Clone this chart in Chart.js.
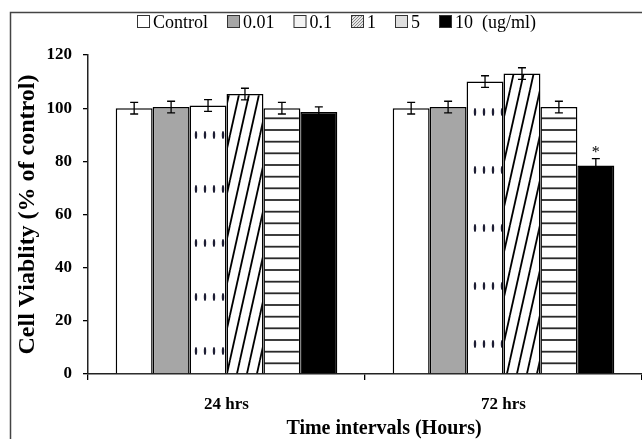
<!DOCTYPE html>
<html>
<head>
<meta charset="utf-8">
<script src="https://cdn.jsdelivr.net/npm/chart.js@4.4.1/dist/chart.umd.min.js"></script>
<style>
  html, body { margin: 0; padding: 0; background: #fff; }
  #wrap { width: 642px; height: 439px; }
</style>
</head>
<body>
<div id="wrap"><canvas id="chart" width="642" height="439"></canvas></div>
<script>
// values
const categories = ['24 hrs', '72 hrs'];
const seriesNames = ['Control', '0.01', '0.1', '1', '5', '10  (ug/ml)'];
const control = [100, 100];
const conc001 = [100.4, 100.4];
const conc01 = [101, 110];
const conc1 = [105.3, 113];
const conc5 = [100, 100.4];
const conc10 = [98.6, 78.4];
const errControl = [2.2, 2.2];
const err001 = [2.2, 2.2];
const err01 = [2.2, 2.2];
const err1 = [2.2, 2.2];
const err5 = [2.2, 2.2];
const err10 = [1.9, 2.6];
const signif10 = ['', '*'];
const yTicks = [0, 20, 40, 60, 80, 100, 120];
const xTitle = 'Time intervals (Hours)';

const values = [control, conc001, conc01, conc1, conc5, conc10];
const errors = [errControl, err001, err01, err1, err5, err10];
const signif = [[], [], [], [], [], signif10];

const FONT = '"Liberation Serif", "Times New Roman", serif';
const canvas = document.getElementById('chart');
const ctx = canvas.getContext('2d');

// pattern helpers
function makeTile(w, h, draw) {
    const c = document.createElement('canvas');
    c.width = w; c.height = h;
    const g = c.getContext('2d');
    draw(g, w, h);
    return ctx.createPattern(c, 'repeat');
}

function dotPattern(tileH, rowY) {
    return makeTile(9, tileH, (g, w, h) => {
        g.fillStyle = '#fff';
        g.fillRect(0, 0, w, h);
        g.fillStyle = '#1d1d33';
        const cy = rowY % h;
        g.beginPath();
        g.ellipse(7, cy, 1.2, 4, 0, 0, Math.PI * 2);
        g.fill();
    });
}

const diagPattern = makeTile(10, 45, (g, w, h) => {
    g.fillStyle = '#fff';
    g.fillRect(0, 0, w, h);
    g.strokeStyle = '#000';
    g.lineWidth = 1.8;
    [-w, 0, w].forEach(x0 => {
        g.beginPath();
        g.moveTo(x0, h);
        g.lineTo(x0 + w, 0);
        g.stroke();
    });
});

const horizPattern = makeTile(4, 35, (g, w, h) => {
    g.fillStyle = '#fff';
    g.fillRect(0, 0, w, h);
    g.fillStyle = '#2a2a2a';
    [1.7, 13.3, 25].forEach(y => g.fillRect(0, y - 0.9, w, 1.8));
});

const hatchSmall = makeTile(3, 3, (g, w, h) => {
    g.fillStyle = '#e6e6e6';
    g.fillRect(0, 0, w, h);
    g.fillStyle = '#8a8a8a';
    g.fillRect(2, 0, 1, 1);
    g.fillRect(1, 1, 1, 1);
    g.fillRect(0, 2, 1, 1);
});

const barFills = [
    '#ffffff',
    '#a6a6a6',
    [dotPattern(54, 135), dotPattern(58, 112)],
    diagPattern,
    horizPattern,
    '#000000'
];
const legendFills = ['#ffffff', '#a6a6a6', '#f3f3f3', hatchSmall, '#dedede', '#000000'];

const extras = {
    id: 'extras',
    afterDatasetsDraw(chart) {
        const c = chart.ctx;
        const y = chart.scales.y;
        c.save();
        c.strokeStyle = '#000';
        c.lineWidth = 1.3;
        chart.data.datasets.forEach((ds, i) => {
            const meta = chart.getDatasetMeta(i);
            meta.data.forEach((bar, j) => {
                const v = ds.data[j], e = errors[i][j];
                const yTop = y.getPixelForValue(v + e);
                const yBot = y.getPixelForValue(v - e);
                c.beginPath();
                c.moveTo(bar.x, yTop); c.lineTo(bar.x, yBot);
                c.moveTo(bar.x - 4, yTop); c.lineTo(bar.x + 4, yTop);
                c.moveTo(bar.x - 4, yBot); c.lineTo(bar.x + 4, yBot);
                c.stroke();
                if (signif[i][j]) {
                    c.fillStyle = '#000';
                    c.font = '16px ' + FONT;
                    c.textAlign = 'center';
                    c.textBaseline = 'alphabetic';
                    c.fillText(signif[i][j], bar.x, yTop - 2);
                }
            });
        });
        c.restore();
    },
    afterDraw(chart) {
        const c = chart.ctx;
        const area = chart.chartArea;
        c.save();
        // frame (left and top edges only)
        c.strokeStyle = '#444';
        c.lineWidth = 1.5;
        c.beginPath();
        c.moveTo(10.5, 439); c.lineTo(10.5, 12.5); c.lineTo(642, 12.5);
        c.stroke();
        // x axis title, sits a little right of the plot centre in the original
        c.fillStyle = '#000';
        c.font = 'bold 20px ' + FONT;
        c.textAlign = 'center';
        c.textBaseline = 'middle';
        c.fillText(xTitle, (area.left + area.right) / 2 + 19, 429);
        // legend
        c.font = '18px ' + FONT;
        c.textBaseline = 'alphabetic';
        c.textAlign = 'left';
        let x = 137;
        seriesNames.forEach((name, i) => {
            c.fillStyle = legendFills[i];
            c.fillRect(x, 15, 13, 13);
            c.strokeStyle = '#333';
            c.lineWidth = 1;
            c.strokeRect(x + 0.5, 15.5, 12, 12);
            c.fillStyle = '#000';
            c.fillText(name, x + 16, 28);
            x += 16 + c.measureText(name).width + 19;
        });
        c.restore();
    }
};

new Chart(ctx, {
    type: 'bar',
    data: {
        labels: categories,
        datasets: values.map((v, i) => ({
            label: seriesNames[i],
            data: v,
            backgroundColor: barFills[i],
            borderColor: '#000',
            borderWidth: 1.5,
            categoryPercentage: 0.8,
            barPercentage: 1.0
        }))
    },
    options: {
        responsive: false,
        animation: false,
        devicePixelRatio: 1,
        layout: { padding: { top: 55, right: 0, bottom: 0, left: 0 } },
        plugins: {
            legend: { display: false },
            tooltip: { enabled: false }
        },
        scales: {
            x: {
                afterFit: s => { s.height = 65; },
                grid: { drawOnChartArea: false, tickLength: 6, color: '#000', lineWidth: 1.3 },
                border: { color: '#222', width: 1.5 },
                ticks: { color: '#000', padding: 14, font: { family: FONT, size: 17, weight: 'bold' } }
            },
            y: {
                min: yTicks[0],
                max: yTicks[yTicks.length - 1],
                afterFit: s => { s.width = 88; },
                grid: { drawOnChartArea: false, tickLength: 5, color: '#000', lineWidth: 1.3 },
                border: { color: '#222', width: 1.5 },
                ticks: {
                    stepSize: yTicks[1] - yTicks[0],
                    color: '#000',
                    padding: 11,
                    font: { family: FONT, size: 17, weight: 'bold' }
                },
                title: {
                    display: true,
                    text: 'Cell Viablity (% of control)',
                    color: '#000',
                    padding: { top: 16, bottom: 0 },
                    font: { family: FONT, size: 24, weight: 'bold', lineHeight: 1 }
                }
            }
        }
    },
    plugins: [extras]
});
</script>
</body>
</html>
